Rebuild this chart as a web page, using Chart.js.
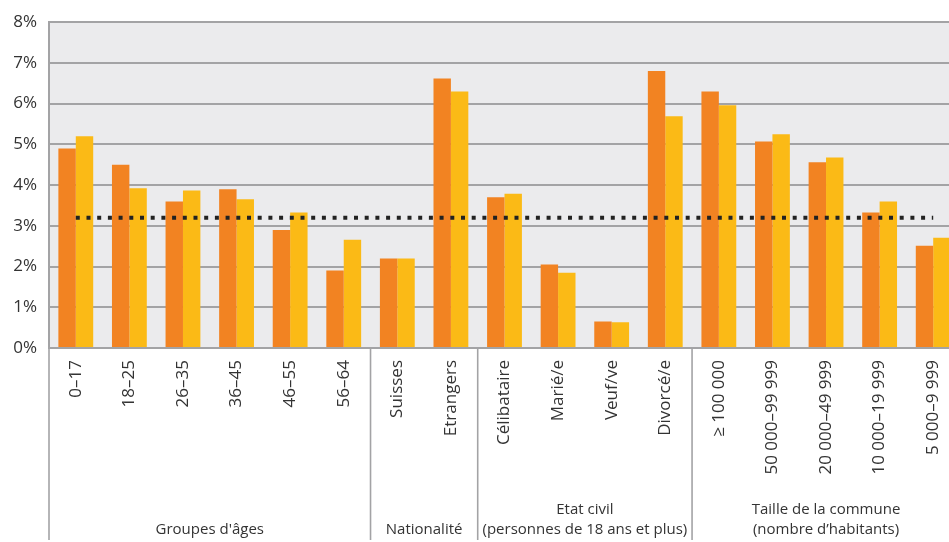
<!DOCTYPE html>
<html lang="fr">
<head>
    <meta charset="UTF-8">
    <title>Taux par groupe</title>
    <script src="https://cdn.jsdelivr.net/npm/chart.js"></script>
    <style>
        body { margin: 0; overflow: hidden; background: #fff; }
        #wrap { width: 962px; height: 542px; }
    </style>
</head>
<body>
    <div id="wrap"><canvas id="chart" width="962" height="542"></canvas></div>

    <script>
        // catégories (axe x)
        const categories = ['0–17', '18–25', '26–35', '36–45', '46–55', '56–64',
            'Suisses', 'Etrangers',
            'Célibataire', 'Marié/e', 'Veuf/ve', 'Divorcé/e',
            '≥ 100 000', '50 000–99 999', '20 000–49 999', '10 000–19 999', '5 000–9 999'];

        // valeurs en %
        const seriesOrange = [4.9, 4.5, 3.6, 3.9, 2.9, 1.9, 2.2, 6.62, 3.7, 2.05, 0.65, 6.8, 6.3, 5.07, 4.56, 3.33, 2.51];
        const seriesYellow = [5.2, 3.92, 3.87, 3.65, 3.33, 2.66, 2.2, 6.3, 3.79, 1.85, 0.63, 5.69, 5.96, 5.25, 4.68, 3.6, 2.71];
        const average = [3.2, 3.2, 3.2, 3.2, 3.2, 3.2, 3.2, 3.2, 3.2, 3.2, 3.2, 3.2, 3.2, 3.2, 3.2, 3.2, 3.2];

        // groupes sous l'axe
        const groupSizes = [6, 2, 4, 5];
        const groupLabels = [
            ['Groupes d\'âges'],
            ['Nationalité'],
            ['Etat civil', '(personnes de 18 ans et plus)'],
            ['Taille de la commune', '(nombre d’habitants)']
        ];

        const yTicks = [0, 1, 2, 3, 4, 5, 6, 7, 8];

        const gridGray = '#a3a3a5';
        const textColor = '#333333';

        // fond gris de la zone de tracé
        const plotBackground = {
            id: 'plotBackground',
            beforeDraw(chart) {
                const { ctx, chartArea } = chart;
                ctx.save();
                ctx.fillStyle = '#ebebed';
                ctx.fillRect(chartArea.left, chartArea.top, chartArea.right - chartArea.left, chartArea.bottom - chartArea.top);
                ctx.restore();
            }
        };

        // séparateurs et titres de groupes
        const groupAxis = {
            id: 'groupAxis',
            afterDraw(chart) {
                const { ctx, chartArea } = chart;
                const x = chart.scales.x;
                const bottom = 540;
                const edge = i => {
                    if (i <= 0) return chartArea.left;
                    if (i >= categories.length) return chartArea.right;
                    return (x.getPixelForValue(i - 1) + x.getPixelForValue(i)) / 2;
                };
                ctx.save();
                ctx.strokeStyle = gridGray;
                ctx.lineWidth = 1.6;
                let start = 0;
                groupSizes.forEach((size, g) => {
                    const x0 = edge(start);
                    const x1 = edge(start + size);
                    ctx.beginPath();
                    ctx.moveTo(x0, chartArea.bottom);
                    ctx.lineTo(x0, bottom);
                    ctx.stroke();

                    ctx.fillStyle = textColor;
                    ctx.font = '15px "Liberation Sans Narrow", "Open Sans", sans-serif';
                    ctx.textAlign = 'center';
                    ctx.textBaseline = 'middle';
                    const lines = groupLabels[g];
                    const cx = (x0 + x1) / 2;
                    lines.forEach((t, k) => {
                        const y = 530 - (lines.length - 1 - k) * 20;
                        ctx.fillText(t, cx, y);
                    });
                    start += size;
                });
                ctx.restore();
            }
        };

        const ctx = document.getElementById('chart').getContext('2d');
        new Chart(ctx, {
            data: {
                labels: categories,
                datasets: [
                    {
                        type: 'line',
                        label: 'Moyenne',
                        data: average,
                        borderColor: '#222222',
                        borderWidth: 4,
                        borderDash: [4, 6.7],
                        borderCapStyle: 'butt',
                        pointRadius: 0,
                        fill: false,
                        order: 0
                    },
                    {
                        type: 'bar',
                        label: 'Série 1',
                        data: seriesOrange,
                        backgroundColor: '#f28322',
                        categoryPercentage: 0.65,
                        barPercentage: 1,
                        order: 1
                    },
                    {
                        type: 'bar',
                        label: 'Série 2',
                        data: seriesYellow,
                        backgroundColor: '#fbba16',
                        categoryPercentage: 0.65,
                        barPercentage: 1,
                        order: 1
                    }
                ]
            },
            plugins: [plotBackground, groupAxis],
            options: {
                responsive: false,
                animation: false,
                layout: { padding: { top: 22, right: 2, left: 0, bottom: 0 } },
                plugins: {
                    legend: { display: false },
                    tooltip: { enabled: false }
                },
                scales: {
                    x: {
                        grid: { display: false },
                        border: { display: false },
                        ticks: {
                            color: textColor,
                            font: { family: '"Open Sans", sans-serif', size: 17 },
                            minRotation: 90,
                            maxRotation: 90,
                            autoSkip: false,
                            padding: 4
                        },
                        afterFit(scale) { scale.height = 194; }
                    },
                    y: {
                        min: 0,
                        max: 8,
                        afterBuildTicks(scale) { scale.ticks = yTicks.map(v => ({ value: v })); },
                        grid: { color: gridGray, lineWidth: 2, drawTicks: false },
                        border: { display: true, color: gridGray, width: 2 },
                        ticks: {
                            color: textColor,
                            font: { family: '"Open Sans", sans-serif', size: 17 },
                            padding: 12,
                            callback: v => v + '%'
                        },
                        afterFit(scale) { scale.width = 49; }
                    }
                }
            }
        });
    </script>
</body>
</html>
